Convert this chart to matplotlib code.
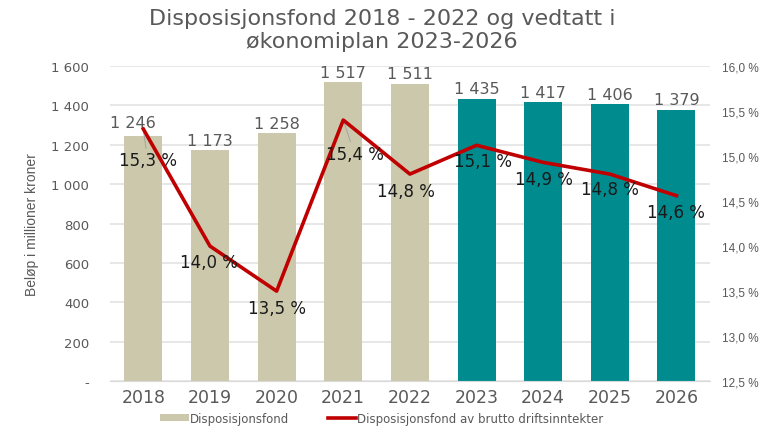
import matplotlib
matplotlib.use("Agg")
import matplotlib.pyplot as plt
from matplotlib.ticker import FixedLocator, FuncFormatter
from matplotlib.patches import Patch
from matplotlib.lines import Line2D

years = ["2018", "2019", "2020", "2021", "2022", "2023", "2024", "2025", "2026"]
fond = [1246, 1173, 1258, 1517, 1511, 1435, 1417, 1406, 1379]
pct = [15.3, 14.0, 13.5, 15.4, 14.8, 15.12, 14.93, 14.8, 14.56]
pct_labels = ["15,3 %", "14,0 %", "13,5 %", "15,4 %", "14,8 %", "15,1 %", "14,9 %", "14,8 %", "14,6 %"]
fond_labels = ["1 246", "1 173", "1 258", "1 517", "1 511", "1 435", "1 417", "1 406", "1 379"]
left_ticks = [0, 200, 400, 600, 800, 1000, 1200, 1400, 1600]
right_ticks = [12.5, 13.0, 13.5, 14.0, 14.5, 15.0, 15.5, 16.0]

BEIGE = "#CCC8AC"
TEAL = "#008B8F"
RED = "#C00000"
GRAY = "#595959"

fig = plt.figure(figsize=(7.64, 4.27), dpi=100)
ax = fig.add_axes([0.144, 0.105, 0.785, 0.738])
ax2 = ax.twinx()

x = list(range(len(years)))
colors = [BEIGE] * 5 + [TEAL] * 4
ax.bar(x, fond, width=0.57, color=colors, zorder=2)
ax.set_ylim(0, 1600)
ax.set_xlim(-0.5, len(years) - 0.5)
ax.yaxis.set_major_locator(FixedLocator(left_ticks))
ax.yaxis.set_major_formatter(FuncFormatter(lambda v, p: "-" if v == 0 else f"{int(v):,}".replace(",", " ")))
ax.grid(axis="y", color="#E3E3E3", linewidth=1.2, zorder=0)
ax.set_axisbelow(True)
ax.set_xticks(x)
ax.set_xticklabels(years, fontsize=12.5, color=GRAY)
ax.tick_params(axis="y", labelsize=9.5, labelcolor=GRAY, length=0, pad=15)
ax.tick_params(axis="x", length=0, pad=5)
for s in ax.spines.values():
    s.set_visible(False)
ax.spines["bottom"].set_visible(True)
ax.spines["bottom"].set_color("#D9D9D9")
ax.set_ylabel("Beløp i millioner kroner", fontsize=10, color=GRAY, labelpad=9,
              family=["Liberation Sans Narrow", "Liberation Sans", "DejaVu Sans"])

bar_offsets = [(-10, 13), (0, 10), (0, 10), (0, 10), (0, 10), (0, 10), (0, 10), (0, 10), (0, 10)]
for i, (v, lab) in enumerate(zip(fond, fond_labels)):
    dx, dy = bar_offsets[i]
    ax.annotate(lab, (i, v), xytext=(dx, dy), textcoords="offset pixels",
                ha="center", va="center", fontsize=11.5, color=GRAY, zorder=5)

ax2.plot(x, pct, color=RED, linewidth=2.6, zorder=4)
ax2.set_ylim(12.5, 16.0)
ax2.yaxis.set_major_locator(FixedLocator(right_ticks))
ax2.yaxis.set_major_formatter(FuncFormatter(lambda v, p: f"{v:.1f}".replace(".", ",") + " %"))
ax2.tick_params(axis="y", labelsize=8.5, labelcolor=GRAY, length=0, pad=9)
for t in ax2.get_yticklabels():
    t.set_family(["Liberation Sans", "DejaVu Sans"])
for s in ax2.spines.values():
    s.set_visible(False)

pct_offsets = [(5, -31), (-1, -16), (0, -17), (12, -34), (-4, -17), (6, -16), (1, -17), (0, -15), (0, -16)]
for i, (v, lab) in enumerate(zip(pct, pct_labels)):
    dx, dy = pct_offsets[i]
    ax2.annotate(lab, (i, v), xytext=(dx, dy), textcoords="offset pixels",
                 ha="center", va="center", fontsize=12, color="#1a1a1a", zorder=6)
# leader lines
for i, (dx, dy) in [(0, (3, -22)), (3, (8, -24))]:
    ax2.annotate("", (i, pct[i]), xytext=(dx, dy), textcoords="offset pixels",
                 arrowprops=dict(arrowstyle="-", color="#A6A6A6", lw=0.8))

fig.suptitle("Disposisjonsfond 2018 - 2022 og vedtatt i\nøkonomiplan 2023-2026",
             x=0.5, y=0.978, fontsize=16, color=GRAY, linespacing=1.15)

handles = [Patch(facecolor=BEIGE, edgecolor="none"),
           Line2D([0], [0], color=RED, linewidth=2.6)]
fig.legend(handles, ["Disposisjonsfond", "Disposisjonsfond av brutto driftsinntekter"],
           loc="center", bbox_to_anchor=(0.5, 0.018), ncol=2, frameon=False,
           fontsize=8.5, labelcolor=GRAY, handlelength=2.4, handleheight=0.6,
           columnspacing=3.3, handletextpad=0.1)

fig.savefig("out.png", dpi=100)
